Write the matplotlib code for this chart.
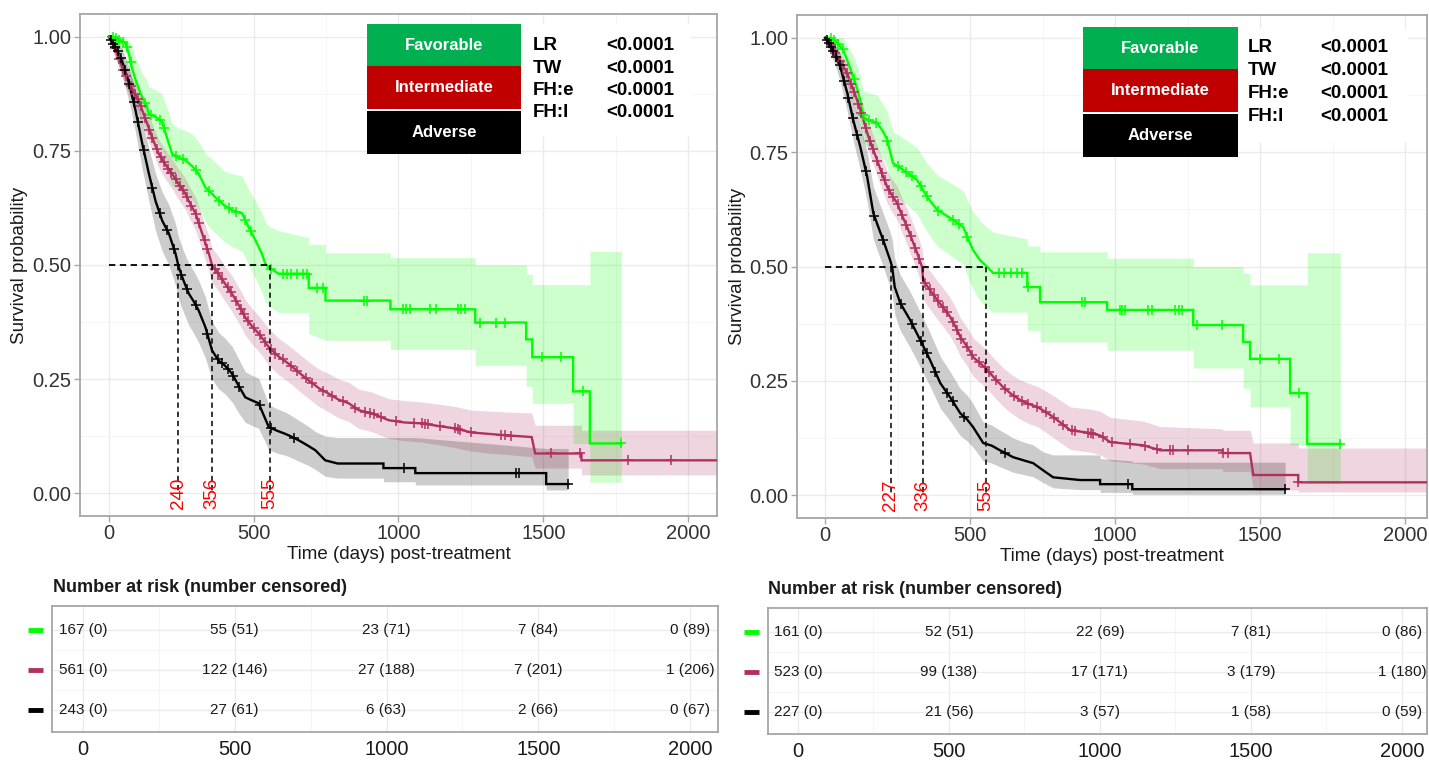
import numpy as np
import matplotlib
matplotlib.use("Agg")
import matplotlib.pyplot as plt
from matplotlib.patches import Rectangle
from matplotlib.transforms import blended_transform_factory

plt.rcParams['font.family'] = ['Liberation Sans', 'DejaVu Sans']

# ---------------- data ----------------
groups = ["Favorable", "Intermediate", "Adverse"]
line_colors = ["#00FF00", "#B03060", "#000000"]
legend_colors = ["#00B050", "#C00000", "#000000"]
tests = ["LR", "TW", "FH:e", "FH:l"]
pvals = ["<0.0001", "<0.0001", "<0.0001", "<0.0001"]
time_ticks = [0, 500, 1000, 1500, 2000]
surv_ticks = [0.0, 0.25, 0.50, 0.75, 1.00]

# ----- left panel -----
fav_L_t = [0, 15, 30, 45, 58, 70, 80, 95, 115, 130, 138, 160, 183, 200, 218, 240, 264, 290, 310, 333,
           350, 368, 400, 425, 460, 483, 506, 528, 540, 552, 586, 690, 690, 748, 748, 972, 972, 1265, 1265, 1441,
           1441, 1462, 1462, 1603, 1603, 1661, 1661, 1770]
fav_L_s = [1.0, 1.0, 0.995, 0.99, 0.985, 0.96, 0.93, 0.90, 0.867, 0.85, 0.83, 0.825, 0.815, 0.78, 0.744, 0.735, 0.73, 0.715, 0.70, 0.67,
           0.66, 0.648, 0.63, 0.62, 0.613, 0.582, 0.554, 0.525, 0.503, 0.495, 0.481, 0.481, 0.45, 0.45, 0.422, 0.422, 0.403, 0.403, 0.374, 0.374,
           0.337, 0.337, 0.298, 0.298, 0.223, 0.223, 0.109, 0.109]
fav_L_hi = [1.0, 1.0, 1.0, 1.0, 1.0, 0.99, 0.975, 0.95, 0.92, 0.905, 0.89, 0.885, 0.875, 0.845, 0.81, 0.80, 0.795, 0.785, 0.77, 0.745,
            0.735, 0.725, 0.705, 0.70, 0.695, 0.665, 0.64, 0.615, 0.595, 0.585, 0.575, 0.56, 0.545, 0.545, 0.527, 0.527, 0.516, 0.516, 0.50, 0.50,
            0.48, 0.48, 0.457, 0.457, 0.457, 0.457, 0.53, 0.53]
fav_L_lo = [1.0, 0.99, 0.98, 0.97, 0.965, 0.93, 0.89, 0.855, 0.815, 0.795, 0.775, 0.77, 0.755, 0.715, 0.675, 0.665, 0.66, 0.64, 0.625, 0.595,
            0.58, 0.57, 0.55, 0.54, 0.53, 0.50, 0.47, 0.44, 0.42, 0.41, 0.396, 0.396, 0.35, 0.335, 0.335, 0.335, 0.315, 0.315, 0.28, 0.28,
            0.234, 0.234, 0.197, 0.197, 0.109, 0.109, 0.024, 0.024]
fav_L_cens = [15, 25, 35, 48, 62, 75, 125, 145, 175, 190, 230, 255, 300, 345, 380, 415, 440, 470, 490, 560,
              600, 615, 630, 650, 670, 685, 720, 740, 880, 890, 1015, 1025, 1040, 1110, 1130, 1205, 1215, 1230,
              1283, 1338, 1368, 1497, 1562, 1638, 1770]

int_L_t = [0, 10, 24, 45, 69, 85, 103, 120, 138, 155, 172, 195, 218, 240, 264, 280, 299, 322, 345, 356,
           379, 400, 425, 450, 471, 495, 517, 535, 552, 585, 620, 655, 690, 725, 759, 793, 828, 862, 907, 966,
           1020, 1080, 1140, 1195, 1252, 1310, 1368, 1460, 1472, 1632, 1632, 2150]
int_L_s = [1.0, 0.99, 0.97, 0.935, 0.90, 0.88, 0.86, 0.83, 0.80, 0.77, 0.744, 0.72, 0.70, 0.678, 0.656, 0.635, 0.613, 0.569, 0.525, 0.50,
           0.48, 0.46, 0.437, 0.41, 0.385, 0.365, 0.35, 0.335, 0.32, 0.30, 0.284, 0.265, 0.247, 0.23, 0.218, 0.205, 0.197, 0.182, 0.175, 0.16,
           0.155, 0.153, 0.147, 0.142, 0.133, 0.13, 0.127, 0.123, 0.087, 0.087, 0.072, 0.072]
int_L_hi = [1.0, 1.0, 0.985, 0.955, 0.925, 0.905, 0.887, 0.858, 0.83, 0.80, 0.775, 0.752, 0.733, 0.712, 0.69, 0.67, 0.649, 0.606, 0.563, 0.538,
            0.518, 0.498, 0.476, 0.449, 0.424, 0.404, 0.389, 0.374, 0.36, 0.34, 0.324, 0.306, 0.288, 0.272, 0.262, 0.25, 0.243, 0.228, 0.222, 0.207,
            0.203, 0.2, 0.195, 0.19, 0.182, 0.18, 0.178, 0.176, 0.149, 0.149, 0.138, 0.138]
int_L_lo = [1.0, 0.98, 0.955, 0.915, 0.875, 0.855, 0.833, 0.802, 0.77, 0.74, 0.713, 0.688, 0.667, 0.644, 0.622, 0.6, 0.577, 0.532, 0.487, 0.462,
            0.442, 0.422, 0.398, 0.371, 0.346, 0.326, 0.311, 0.296, 0.28, 0.26, 0.244, 0.225, 0.207, 0.19, 0.178, 0.165, 0.157, 0.142, 0.135, 0.12,
            0.115, 0.112, 0.106, 0.1, 0.092, 0.088, 0.085, 0.08, 0.055, 0.055, 0.04, 0.04]
int_L_cens = [20, 35, 50, 60, 75, 90, 100, 110, 125, 140, 150, 165, 180, 190, 205, 215, 230, 245, 255, 270,
              285, 300, 310, 330, 340, 365, 375, 390, 410, 420, 440, 455, 465, 480, 500, 520, 540, 560, 575, 600,
              630, 650, 680, 700, 740, 770, 810, 850, 886, 900, 915, 938, 993, 1052, 1080, 1090, 1103, 1145, 1195,
              1205, 1214, 1252, 1355, 1368, 1390, 1528, 1628, 1793, 1941]

adv_L_t = [0, 10, 25, 45, 69, 92, 115, 138, 161, 184, 207, 230, 241, 258, 276, 293, 310, 333, 356, 379,
           400, 425, 448, 471, 495, 517, 535, 552, 580, 609, 630, 655, 685, 713, 747, 790, 948, 948, 1058, 1058,
           1510, 1510, 1586]
adv_L_s = [1.0, 0.99, 0.975, 0.947, 0.90, 0.838, 0.766, 0.70, 0.64, 0.597, 0.569, 0.525, 0.495, 0.465, 0.437, 0.42, 0.40, 0.364, 0.313, 0.29,
           0.28, 0.262, 0.235, 0.21, 0.203, 0.197, 0.17, 0.145, 0.137, 0.13, 0.124, 0.116, 0.105, 0.094, 0.072, 0.065, 0.065, 0.055, 0.055, 0.044,
           0.044, 0.02, 0.02]
adv_L_hi = [1.0, 1.0, 0.995, 0.975, 0.935, 0.88, 0.815, 0.755, 0.70, 0.66, 0.632, 0.59, 0.56, 0.53, 0.503, 0.487, 0.466, 0.43, 0.376, 0.352,
            0.34, 0.322, 0.294, 0.266, 0.258, 0.252, 0.222, 0.194, 0.185, 0.178, 0.17, 0.16, 0.148, 0.135, 0.125, 0.122, 0.122, 0.122, 0.122, 0.122,
            0.098, 0.098, 0.098]
adv_L_lo = [1.0, 0.975, 0.95, 0.915, 0.86, 0.79, 0.71, 0.64, 0.575, 0.53, 0.5, 0.455, 0.425, 0.395, 0.368, 0.35, 0.33, 0.296, 0.25, 0.228,
            0.218, 0.2, 0.176, 0.155, 0.148, 0.142, 0.118, 0.095, 0.088, 0.083, 0.078, 0.07, 0.062, 0.052, 0.037, 0.033, 0.033, 0.025, 0.025, 0.018,
            0.018, 0.007, 0.007]
adv_L_cens = [8, 15, 22, 30, 40, 55, 70, 85, 100, 120, 150, 175, 200, 225, 250, 270, 300, 340, 375, 390,
              410, 430, 450, 520, 560, 640, 1020, 1405, 1415, 1586]

medians_L = [240, 356, 555]

# ----- right panel -----
fav_R_t = [0, 20, 40, 62, 80, 97, 110, 121, 131, 150, 179, 200, 214, 234, 260, 283, 317, 352, 386, 441,
           476, 490, 510, 534, 559, 579, 697, 697, 741, 741, 972, 972, 1269, 1269, 1441, 1441, 1465, 1465, 1603, 1603,
           1662, 1662, 1776]
fav_R_s = [1.0, 1.0, 0.99, 0.974, 0.945, 0.915, 0.89, 0.864, 0.827, 0.82, 0.814, 0.795, 0.777, 0.726, 0.715, 0.705, 0.689, 0.652, 0.624, 0.602,
           0.586, 0.565, 0.536, 0.514, 0.499, 0.486, 0.486, 0.455, 0.455, 0.422, 0.422, 0.405, 0.405, 0.372, 0.372, 0.335, 0.335, 0.298, 0.298, 0.223,
           0.223, 0.112, 0.112]
fav_R_hi = [1.0, 1.0, 1.0, 1.0, 0.98, 0.96, 0.94, 0.915, 0.885, 0.88, 0.875, 0.855, 0.84, 0.795, 0.785, 0.775, 0.76, 0.725, 0.70, 0.68,
            0.665, 0.645, 0.62, 0.6, 0.585, 0.575, 0.56, 0.545, 0.545, 0.532, 0.532, 0.518, 0.518, 0.5, 0.5, 0.485, 0.485, 0.46, 0.46, 0.46,
            0.46, 0.53, 0.53]
fav_R_lo = [1.0, 1.0, 0.975, 0.95, 0.91, 0.87, 0.84, 0.81, 0.77, 0.76, 0.755, 0.735, 0.715, 0.66, 0.645, 0.635, 0.615, 0.575, 0.545, 0.52,
            0.505, 0.48, 0.45, 0.425, 0.41, 0.40, 0.40, 0.36, 0.36, 0.335, 0.335, 0.317, 0.317, 0.278, 0.278, 0.234, 0.234, 0.193, 0.193, 0.11,
            0.11, 0.026, 0.026]
fav_R_cens = [20, 30, 45, 60, 100, 130, 150, 175, 215, 250, 280, 300, 330, 350, 390, 440, 460, 490, 600, 615,
              640, 660, 680, 700, 886, 897, 1017, 1025, 1034, 1114, 1128, 1207, 1220, 1231, 1283, 1369, 1500, 1566, 1634, 1776]

int_R_t = [0, 15, 28, 50, 76, 95, 110, 128, 145, 162, 179, 196, 214, 230, 248, 265, 283, 300, 317, 334,
           338, 362, 386, 410, 431, 450, 466, 490, 510, 535, 559, 585, 614, 640, 672, 700, 731, 760, 786, 845,
           914, 950, 983, 1097, 1155, 1369, 1372, 1465, 1476, 1631, 1631, 2150]
int_R_s = [1.0, 0.99, 0.975, 0.95, 0.923, 0.89, 0.864, 0.83, 0.792, 0.762, 0.733, 0.703, 0.674, 0.656, 0.639, 0.612, 0.586, 0.558, 0.53, 0.499,
           0.47, 0.448, 0.427, 0.408, 0.39, 0.368, 0.346, 0.324, 0.302, 0.288, 0.274, 0.255, 0.236, 0.222, 0.208, 0.2, 0.193, 0.182, 0.171, 0.142,
           0.136, 0.13, 0.116, 0.109, 0.098, 0.098, 0.092, 0.092, 0.044, 0.044, 0.028, 0.028]
int_R_hi = [1.0, 1.0, 0.99, 0.97, 0.945, 0.915, 0.89, 0.858, 0.822, 0.793, 0.765, 0.737, 0.709, 0.692, 0.676, 0.65, 0.625, 0.598, 0.571, 0.54,
            0.512, 0.49, 0.469, 0.45, 0.432, 0.41, 0.388, 0.366, 0.344, 0.33, 0.316, 0.297, 0.278, 0.265, 0.252, 0.245, 0.238, 0.228, 0.218, 0.193,
            0.188, 0.183, 0.17, 0.162, 0.15, 0.145, 0.142, 0.142, 0.114, 0.114, 0.103, 0.103]
int_R_lo = [1.0, 0.98, 0.96, 0.93, 0.9, 0.865, 0.838, 0.802, 0.762, 0.73, 0.7, 0.669, 0.639, 0.62, 0.602, 0.574, 0.547, 0.518, 0.489, 0.458,
            0.428, 0.406, 0.385, 0.366, 0.348, 0.326, 0.304, 0.282, 0.26, 0.246, 0.232, 0.213, 0.194, 0.18, 0.166, 0.157, 0.15, 0.138, 0.126, 0.1,
            0.094, 0.088, 0.075, 0.068, 0.058, 0.058, 0.052, 0.052, 0.011, 0.011, 0.007, 0.007]
int_R_cens = [20, 35, 50, 60, 75, 90, 100, 115, 125, 140, 155, 165, 180, 195, 205, 220, 235, 250, 265, 280,
              295, 310, 325, 345, 360, 375, 390, 405, 420, 440, 455, 470, 490, 505, 530, 550, 565, 590, 620, 650,
              680, 700, 730, 760, 790, 820, 852, 862, 907, 915, 924, 959, 990, 1052, 1103, 1145, 1190, 1200, 1252,
              1372, 1390, 1631]

adv_R_t = [0, 10, 30, 52, 76, 97, 121, 145, 166, 183, 200, 224, 231, 240, 259, 293, 328, 362, 397, 431,
           466, 490, 510, 545, 575, 603, 648, 690, 717, 750, 786, 879, 948, 948, 1059, 1059, 1586]
adv_R_s = [1.0, 0.99, 0.97, 0.937, 0.88, 0.82, 0.762, 0.696, 0.617, 0.587, 0.558, 0.514, 0.499, 0.455, 0.42, 0.383, 0.339, 0.295, 0.245, 0.214,
           0.179, 0.165, 0.149, 0.114, 0.108, 0.098, 0.083, 0.075, 0.07, 0.055, 0.039, 0.033, 0.033, 0.024, 0.024, 0.013, 0.013]
adv_R_hi = [1.0, 1.0, 0.99, 0.965, 0.92, 0.865, 0.812, 0.75, 0.675, 0.645, 0.617, 0.575, 0.56, 0.517, 0.482, 0.445, 0.4, 0.355, 0.303, 0.27,
            0.233, 0.218, 0.2, 0.16, 0.153, 0.142, 0.125, 0.115, 0.11, 0.095, 0.088, 0.088, 0.088, 0.08, 0.075, 0.072, 0.072]
adv_R_lo = [1.0, 0.975, 0.948, 0.905, 0.84, 0.775, 0.712, 0.642, 0.56, 0.53, 0.5, 0.455, 0.44, 0.395, 0.36, 0.323, 0.28, 0.238, 0.19, 0.162,
            0.13, 0.118, 0.105, 0.075, 0.07, 0.062, 0.05, 0.044, 0.04, 0.028, 0.016, 0.012, 0.012, 0.006, 0.006, 0.002, 0.002]
adv_R_cens = [5, 12, 20, 28, 38, 50, 65, 80, 95, 110, 140, 170, 200, 260, 300, 330, 350, 380, 420, 440,
              480, 620, 1045, 1586]

medians_R = [227, 336, 555]

# ----- risk tables -----
risk_L_fav = [167, 55, 23, 7, 0]
cens_L_fav = [0, 51, 71, 84, 89]
risk_L_int = [561, 122, 27, 7, 1]
cens_L_int = [0, 146, 188, 201, 206]
risk_L_adv = [243, 27, 6, 2, 0]
cens_L_adv = [0, 61, 63, 66, 67]

risk_R_fav = [161, 52, 22, 7, 0]
cens_R_fav = [0, 51, 69, 81, 86]
risk_R_int = [523, 99, 17, 3, 1]
cens_R_int = [0, 138, 171, 179, 180]
risk_R_adv = [227, 21, 3, 1, 0]
cens_R_adv = [0, 56, 57, 58, 59]

# ---------------- drawing ----------------
W, H = 1429, 760
fig = plt.figure(figsize=(W / 100, H / 100), dpi=100)


def fax(x0, y0, x1, y1):
    """axes from pixel box (left, top, right, bottom)"""
    return fig.add_axes([x0 / W, 1 - y1 / H, (x1 - x0) / W, (y1 - y0) / H])


GRID_MAJ = "#EBEBEB"
GRID_MIN = "#F4F4F4"
BORDER = "#A6A6A6"
TICK_COL = "#333333"


def style_axes(ax):
    for sp in ax.spines.values():
        sp.set_color(BORDER)
        sp.set_linewidth(1.3)
    ax.set_axisbelow(True)


def draw_km(ax, curves, medians, xlim, legend_pos, ptext_pos, white_box):
    ax.set_xlim(*xlim)
    ax.set_ylim(-0.05, 1.05)
    style_axes(ax)
    ax.set_xticks(time_ticks)
    ax.set_xticks([250, 750, 1250, 1750], minor=True)
    ax.set_yticks(surv_ticks)
    ax.set_yticks([0.125, 0.375, 0.625, 0.875], minor=True)
    ax.set_yticklabels(["%.2f" % v for v in surv_ticks])
    ax.grid(True, which="major", color=GRID_MAJ, lw=1.0)
    ax.grid(True, which="minor", color=GRID_MIN, lw=0.6)
    ax.tick_params(axis="both", which="major", labelsize=14.5, colors=BORDER, labelcolor=TICK_COL,
                   length=4, width=1.0, pad=2)
    ax.tick_params(axis="both", which="minor", length=0)
    ax.set_ylabel("Survival probability", fontsize=13.5, color="#1a1a1a", labelpad=3)
    ax.set_xlabel("Time (days) post-treatment", fontsize=13.5, color="#1a1a1a", labelpad=2)

    # confidence bands
    for (t, s, lo, hi, cens), col in zip(curves, line_colors):
        ax.fill_between(t, lo, hi, color=col, alpha=0.2, lw=0, zorder=2)
    # lines + censor marks
    for (t, s, lo, hi, cens), col in zip(curves, line_colors):
        ax.plot(t, s, color=col, lw=1.7, zorder=4, solid_joinstyle="miter")
        cy = np.interp(cens, t, s)
        ax.plot(cens, cy, ls="none", marker="+", ms=7, mew=1.1, color=col, zorder=5)

    # median lines
    ax.plot([0, max(medians)], [0.5, 0.5], color="black", ls=(0, (3.5, 2.5)), lw=1.3, zorder=6)
    for m in medians:
        ax.plot([m, m], [0.5, 0.0], color="black", ls=(0, (3.5, 2.5)), lw=1.1, zorder=6)
        ax.text(m, 0.0, str(m), rotation=90, ha="center", va="center", color="#FF0000",
                fontsize=13.5, zorder=7)

    # white background under the p-value block
    ax.add_patch(Rectangle((white_box[0], white_box[1]), white_box[2], white_box[3],
                           transform=ax.transAxes, facecolor="white", edgecolor="none", zorder=7))
    # legend boxes
    bx0, bx1, edges = legend_pos
    for i, (g, c) in enumerate(zip(groups, legend_colors)):
        top, bot = edges[i]
        ax.add_patch(Rectangle((bx0, bot), bx1 - bx0, top - bot, transform=ax.transAxes,
                               facecolor=c, edgecolor="none", zorder=8))
        ax.text((bx0 + bx1) / 2, (top + bot) / 2, g, transform=ax.transAxes, ha="center",
                va="center", color="white", fontsize=12, fontweight="bold", zorder=9)
    # p-values
    xl, xv, rows = ptext_pos
    for lab, pv, y in zip(tests, pvals, rows):
        ax.text(xl, y, lab, transform=ax.transAxes, ha="left", va="center", fontsize=13.5,
                fontweight="bold", color="black", zorder=9)
        ax.text(xv, y, pv, transform=ax.transAxes, ha="left", va="center", fontsize=13.5,
                fontweight="bold", color="black", zorder=9)


def draw_table(ax, risks, cens, xlim, title_xy):
    ax.set_xlim(*xlim)
    ax.set_ylim(0.45, 3.6)
    style_axes(ax)
    ax.set_xticks(time_ticks)
    ax.set_xticks([250, 750, 1250, 1750], minor=True)
    ax.set_yticks([1, 2, 3])
    ax.set_yticks([1.5, 2.5], minor=True)
    ax.set_yticklabels([])
    ax.grid(True, which="major", color=GRID_MAJ, lw=1.0)
    ax.grid(True, which="minor", color=GRID_MIN, lw=0.6)
    ax.tick_params(axis="x", which="major", labelsize=14.5, labelcolor="#1a1a1a", length=0, pad=6)
    ax.tick_params(axis="y", which="both", length=0)
    ax.tick_params(axis="x", which="minor", length=0)
    rows = [3, 2, 1]
    for r, rk, cs, col in zip(rows, risks, cens, line_colors):
        for t, n, c in zip(time_ticks, rk, cs):
            ax.text(t, r, "%d (%d)" % (n, c), ha="center", va="center", fontsize=11, color="#1a1a1a")
        tr = blended_transform_factory(fig.transFigure, ax.transData)
        x0 = ax.get_position().x0
        ax.plot([x0 - 24 / W, x0 - 9 / W], [r, r], transform=tr, color=col, lw=3.5,
                solid_capstyle="butt", clip_on=False)
    fig.text(title_xy[0] / W, 1 - title_xy[1] / H, "Number at risk (number censored)",
             ha="left", va="center", fontsize=13, fontweight="bold", color="#1a1a1a")


# left KM
axL = fax(80, 14, 717, 516)
curves_L = [
    (fav_L_t, fav_L_s, fav_L_lo, fav_L_hi, fav_L_cens),
    (int_L_t, int_L_s, int_L_lo, int_L_hi, int_L_cens),
    (adv_L_t, adv_L_s, adv_L_lo, adv_L_hi, adv_L_cens),
]
draw_km(axL, curves_L, medians_L, (-100, 2100),
        (0.4505, 0.6923, [(0.980, 0.8964), (0.8964, 0.8108), (0.8068, 0.7211)]),
        (0.7111, 0.8257, [0.9382, 0.8924, 0.8486, 0.8028]),
        (0.6923, 0.756, 0.267, 0.225))

# right KM
axR = fax(797, 15, 1427, 518)
curves_R = [
    (fav_R_t, fav_R_s, fav_R_lo, fav_R_hi, fav_R_cens),
    (int_R_t, int_R_s, int_R_lo, int_R_hi, int_R_cens),
    (adv_R_t, adv_R_s, adv_R_lo, adv_R_hi, adv_R_cens),
]
draw_km(axR, curves_R, medians_R, (-97, 2075),
        (0.454, 0.700, [(0.976, 0.8926), (0.8926, 0.8072), (0.8032, 0.7177)]),
        (0.716, 0.830, [0.9344, 0.8887, 0.8449, 0.7992]),
        (0.700, 0.748, 0.27, 0.225))

# tables
tL = fax(52, 606, 718, 732)
draw_table(tL, [risk_L_fav, risk_L_int, risk_L_adv], [cens_L_fav, cens_L_int, cens_L_adv],
           (-102, 2092), (53, 588))
tR = fax(768, 608, 1427, 734)
draw_table(tR, [risk_R_fav, risk_R_int, risk_R_adv], [cens_R_fav, cens_R_int, cens_R_adv],
           (-99, 2083), (768, 590))

fig.savefig("out.png", dpi=100, facecolor="white")
